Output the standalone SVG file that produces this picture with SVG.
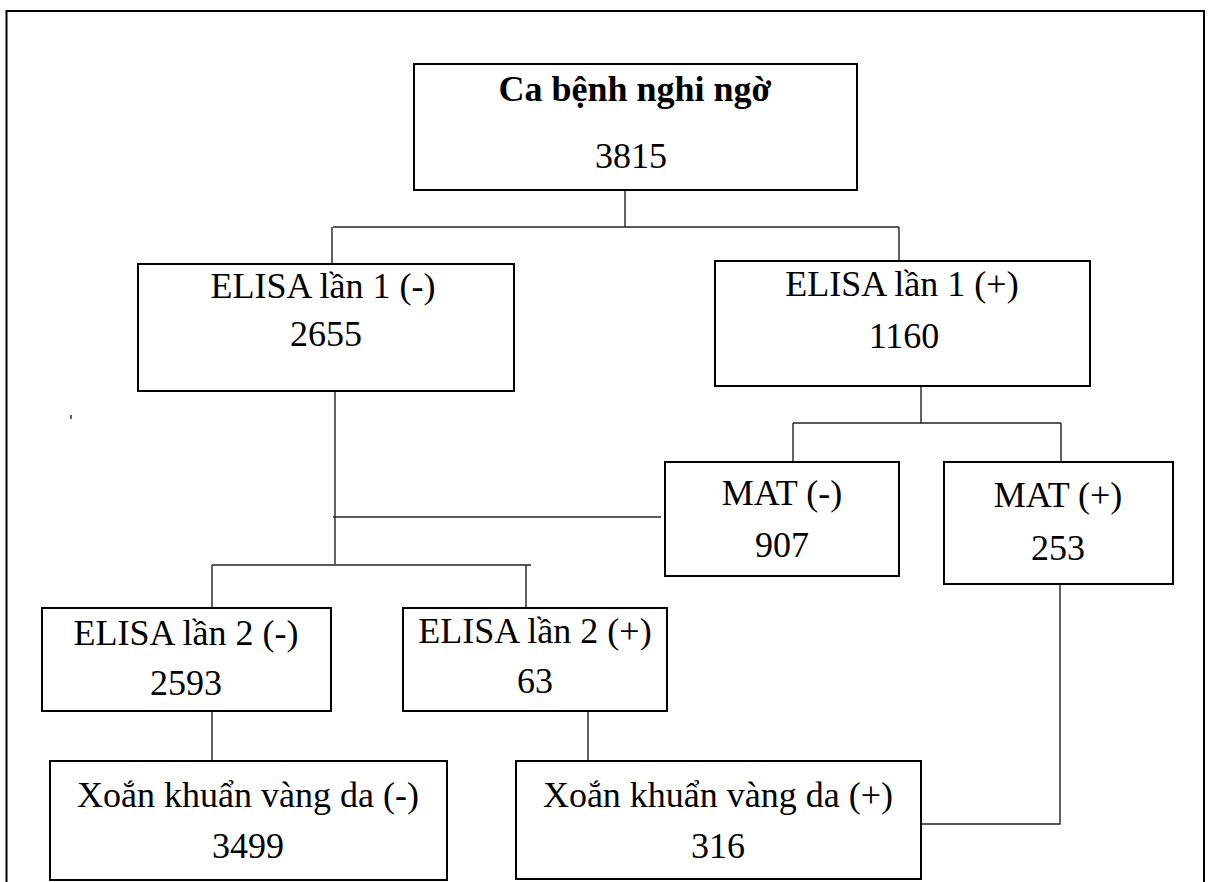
<svg xmlns="http://www.w3.org/2000/svg" width="1209" height="882" viewBox="0 0 1209 882">
<style>
.box{fill:#fff;stroke:#000;stroke-width:2}
.t{font-family:"Liberation Serif","Times New Roman",serif;font-size:36px;fill:#000;text-anchor:middle}
.b{font-weight:bold}
.c{fill:none;stroke:#222;stroke-width:1.4}
</style>
<rect x="0" y="0" width="1209" height="882" fill="#fff"/>
<rect x="6.5" y="11" width="1197.5" height="900" fill="none" stroke="#000" stroke-width="2"/>
<g id="connectors" class="c">
<path d="M625 190V227M333 227H899M332 227V264M899 227V261"/>
<path d="M335 391V564M333 517H661M212 565H531M212 565V608M526 565V608"/>
<path d="M921 386V423M793 423H1061M793 423V462M1061 423V462"/>
<path d="M212 711V766M588 711V761"/>
<path d="M1060 584V824H921"/>
<path d="M71 415V419"/>
</g>
<g id="n-root"><rect class="box" x="414" y="64" width="443" height="126"/><text class="t b" x="635" y="101">Ca bệnh nghi ngờ</text><text class="t" x="631" y="168">3815</text></g>
<g id="n-e1neg"><rect class="box" x="138" y="264" width="376" height="127"/><text class="t" x="323" y="298">ELISA lần 1 (-)</text><text class="t" x="326" y="346">2655</text></g>
<g id="n-e1pos"><rect class="box" x="715" y="261" width="375" height="125"/><text class="t" x="902" y="296">ELISA lần 1 (+)</text><text class="t" x="904" y="348">1160</text></g>
<g id="n-matneg"><rect class="box" x="665" y="462" width="234" height="114"/><text class="t" x="782" y="505">MAT (-)</text><text class="t" x="782" y="557">907</text></g>
<g id="n-matpos"><rect class="box" x="944" y="462" width="229" height="122"/><text class="t" x="1058" y="507">MAT (+)</text><text class="t" x="1058" y="560">253</text></g>
<g id="n-e2neg"><rect class="box" x="42" y="608" width="289" height="103"/><text class="t" x="186" y="645">ELISA lần 2 (-)</text><text class="t" x="186" y="695">2593</text></g>
<g id="n-e2pos"><rect class="box" x="403" y="608" width="264" height="103"/><text class="t" x="535" y="643">ELISA lần 2 (+)</text><text class="t" x="535" y="693">63</text></g>
<g id="n-xneg"><rect class="box" x="50" y="761" width="397" height="119"/><text class="t" x="248" y="807">Xoắn khuẩn vàng da (-)</text><text class="t" x="248" y="858">3499</text></g>
<g id="n-xpos"><rect class="box" x="516" y="761" width="405" height="118"/><text class="t" x="718" y="807">Xoắn khuẩn vàng da (+)</text><text class="t" x="718" y="858">316</text></g>
</svg>
